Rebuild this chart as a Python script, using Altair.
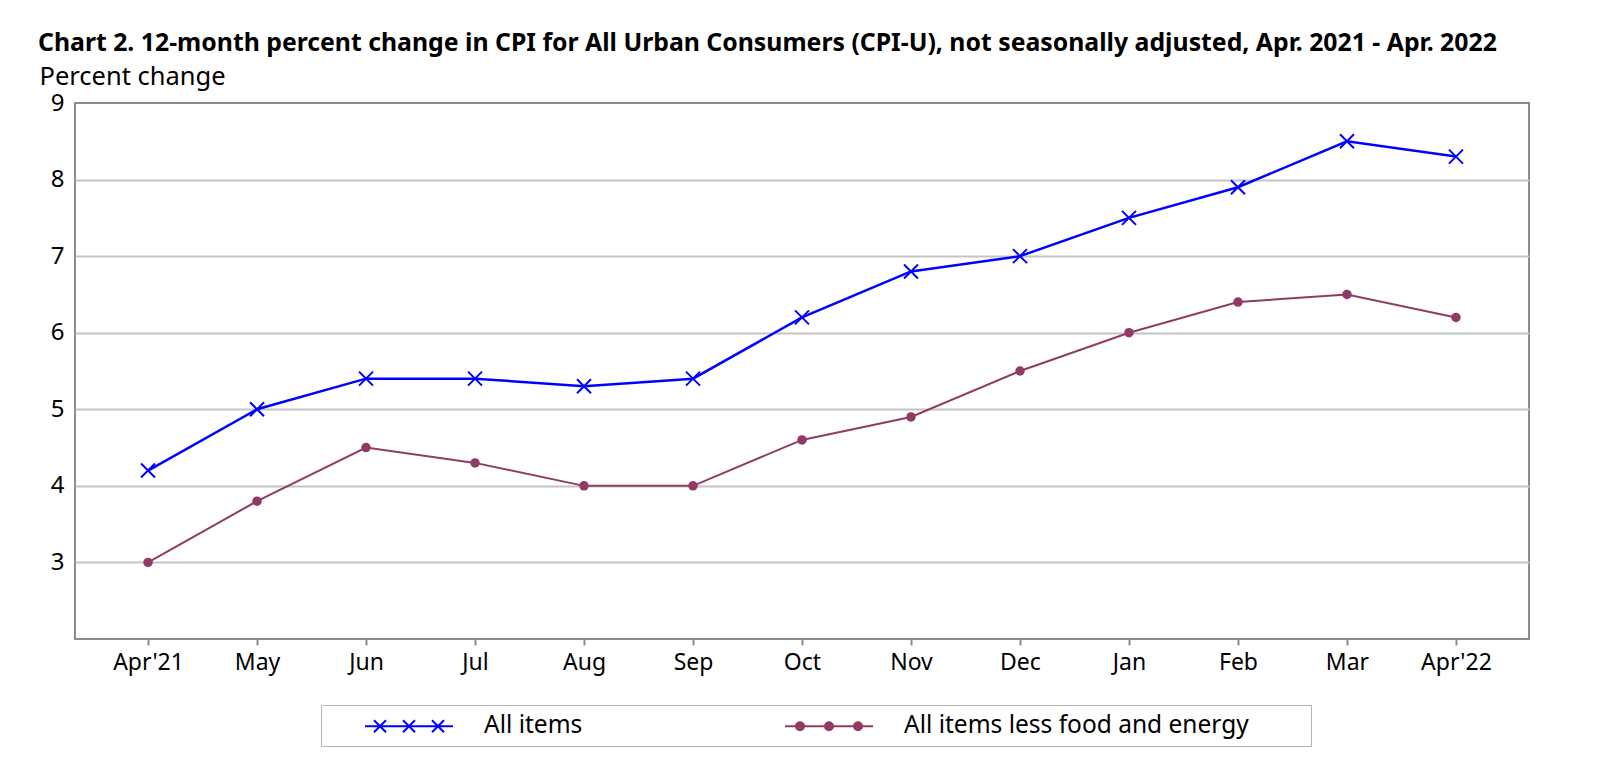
import altair as alt
import pandas as pd

months = ["Apr'21", "May", "Jun", "Jul", "Aug", "Sep", "Oct", "Nov", "Dec",
          "Jan", "Feb", "Mar", "Apr'22"]
all_items = [4.2, 5.0, 5.4, 5.4, 5.3, 5.4, 6.2, 6.8, 7.0, 7.5, 7.9, 8.5, 8.3]
core = [3.0, 3.8, 4.5, 4.3, 4.0, 4.0, 4.6, 4.9, 5.5, 6.0, 6.4, 6.5, 6.2]
series_names = ["All items", "All items less food and energy"]
colors = ["#0000ff", "#923a66"]
y_ticks = [3, 4, 5, 6, 7, 8, 9]

title_text = ("Chart 2. 12-month percent change in CPI for All Urban Consumers (CPI-U), "
              "not seasonally adjusted, Apr. 2021 - Apr. 2022")
y_title = "Percent change"

rows = []
for m, a, c in zip(months, all_items, core):
    rows.append({"month": m, "series": series_names[0], "value": a})
    rows.append({"month": m, "series": series_names[1], "value": c})
df = pd.DataFrame(rows)

FONT = "Noto Sans"

# plot marker shape
X_PATH = "M-1,-1L1,1M-1,1L1,-1"

# legend symbols: a short line with three markers (path units = 12 px)
SYM_SIZE = 576
u = 12.0
sym_len = 88.0
x0, x1 = -1.0, -1.0 + sym_len / u
centers = [-1.0 + p / u for p in (15.0, 44.0, 73.0)]
a = 6.0 / u
LEG_X = f"M{x0:.3f},0L{x1:.3f},0" + "".join(
    f"M{c - a:.3f},{-a:.3f}L{c + a:.3f},{a:.3f}M{c - a:.3f},{a:.3f}L{c + a:.3f},{-a:.3f}" for c in centers)
LEG_O = f"M{x0:.3f},0L{x1:.3f},0"
for c in centers:
    for rp in (1.0, 2.0, 3.0, 4.0):
        r = rp / u
        LEG_O += f"M{c - r:.3f},0A{r:.3f},{r:.3f} 0 1,0 {c + r:.3f},0A{r:.3f},{r:.3f} 0 1,0 {c - r:.3f},0"

test = f"datum.value === '{series_names[0]}'"
blank = "\u2800\u2800\u2800"

legend = alt.Legend(
    title=" ", titleOrient="left", titleFontSize=10, titlePadding=35,
    orient="none", legendX=246, legendY=602,
    direction="horizontal", columns=2, columnPadding=198,
    symbolSize=SYM_SIZE, symbolStrokeWidth=2, symbolOpacity=1, labelOffset=94,
    labelFont=FONT, labelFontSize=24.5, labelColor="black", labelLimit=700,
    labelExpr=f"{test} ? datum.label : datum.label + '{blank}'",
    strokeColor="#b4b4b4", padding=8,
)

x_enc = alt.X("month:N", sort=months,
              scale=alt.Scale(type="point", padding=0.67),
              axis=alt.Axis(title=None, labelAngle=0, domain=False, ticks=True,
                            tickColor="#8c8c8c", tickWidth=2, tickSize=6,
                            labelPadding=6, labelFont=FONT, labelFontSize=23,
                            labelColor="black", grid=False))
y_enc = alt.Y("value:Q",
              scale=alt.Scale(domain=[2, 9], nice=False, zero=False),
              axis=alt.Axis(values=y_ticks, grid=True, gridColor="#c4c4c4", gridWidth=2,
                            gridOpacity={"condition": {"test": "datum.value === 9", "value": 0}, "value": 1},
                            domain=False, ticks=False, labelPadding=11,
                            labelFont=FONT, labelFontSize=24, labelColor="black",
                            title=y_title, titleAngle=0, titleAlign="left",
                            titleBaseline="alphabetic", titleX=-36, titleY=-19,
                            titleFont=FONT, titleFontSize=25.5, titleFontWeight="normal",
                            titleColor="black"))
color_scale = alt.Scale(domain=series_names, range=colors)
color_enc = alt.Color("series:N", scale=color_scale, legend=legend)

# legend-only layer (no rows pass the filter; the legend comes from the scale domains)
legend_layer = alt.Chart(df).transform_filter("false").mark_point(
    filled=False, strokeWidth=2, opacity=1
).encode(
    x=x_enc, y=y_enc,
    color=color_enc,
    shape=alt.Shape("series:N", scale=alt.Scale(domain=series_names, range=[LEG_X, LEG_O]),
                    legend=legend),
)

base = alt.Chart(df).encode(x=x_enc, y=y_enc, color=color_enc)

line_all = base.transform_filter(alt.datum.series == series_names[0]).mark_line(strokeWidth=2.5)
line_core = base.transform_filter(alt.datum.series == series_names[1]).mark_line(strokeWidth=2)
xs = base.transform_filter(alt.datum.series == series_names[0]).mark_point(
    shape=X_PATH, size=196, strokeWidth=2, filled=False, opacity=1)
dots = base.transform_filter(alt.datum.series == series_names[1]).mark_circle(
    size=90, opacity=1)

chart = alt.layer(legend_layer, line_all, line_core, xs, dots).properties(
    width=1454, height=536,
    title=alt.Title(title_text, anchor="start", dx=-1, dy=-4, font=FONT, fontSize=24.8,
                    fontWeight="bold", color="black"),
    autosize=alt.AutoSizeParams(type="none"),
    padding={"left": 67, "top": 95, "right": 60, "bottom": 130},
).configure_view(stroke="#8c8c8c", strokeWidth=2)

chart.save("out.html", embed_options={"renderer": "svg", "actions": False})
